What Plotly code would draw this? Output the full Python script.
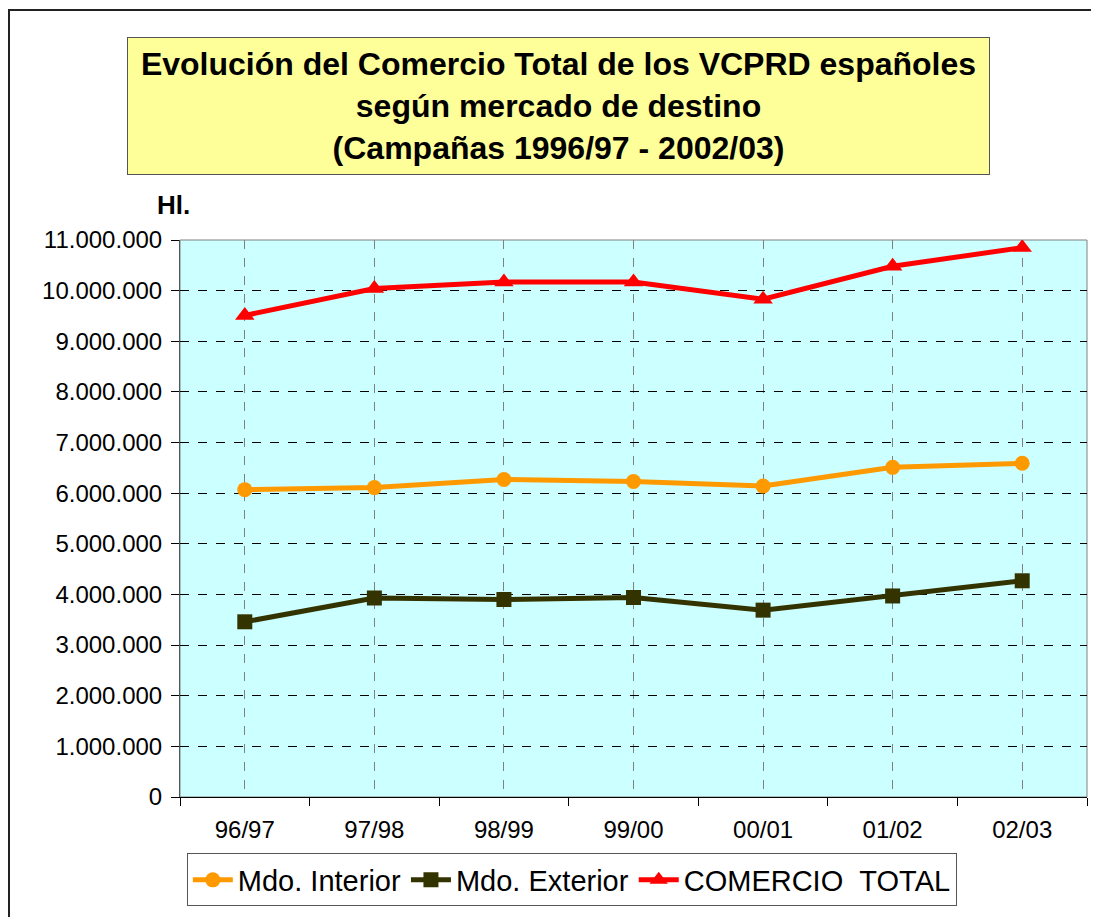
import plotly.graph_objects as go

categories = ["96/97", "97/98", "98/99", "99/00", "00/01", "01/02", "02/03"]
mdo_interior = [6070000, 6110000, 6270000, 6230000, 6140000, 6510000, 6590000]
mdo_exterior = [3460000, 3930000, 3900000, 3940000, 3690000, 3970000, 4270000]
comercio_total = [9510000, 10040000, 10170000, 10170000, 9830000, 10480000, 10850000]
y_ticks = list(range(0, 11000001, 1000000))
y_tick_labels = ["{:,}".format(v).replace(",", ".") for v in y_ticks]

FONT = "Arial, Liberation Sans, sans-serif"
xpos = list(range(len(categories)))

L, T, W, H = 172, 232, 907, 557  # plot area in figure pixels


def px(x):
    return (x - L) / W


def py(y):
    return (T + H - y) / H


fig = go.Figure()
fig.add_trace(go.Scatter(x=xpos, y=mdo_interior, name="Mdo. Interior", mode="lines+markers",
                         line=dict(color="#FF9900", width=5),
                         marker=dict(symbol="circle", size=15, color="#FF9900")))
fig.add_trace(go.Scatter(x=xpos, y=mdo_exterior, name="Mdo. Exterior", mode="lines+markers",
                         line=dict(color="#333300", width=5),
                         marker=dict(symbol="square", size=15, color="#333300")))
fig.add_trace(go.Scatter(x=xpos, y=comercio_total, name="COMERCIO\u00a0\u00a0TOTAL", mode="lines+markers",
                         line=dict(color="#FF0000", width=5),
                         marker=dict(symbol="triangle-up", size=17, color="#FF0000")))

fig.update_layout(
    width=1099, height=917,
    margin=dict(l=L, r=1099 - L - W, t=T, b=917 - T - H),
    paper_bgcolor="white",
    plot_bgcolor="#CCFFFF",
    font=dict(family=FONT, color="black"),
    showlegend=True,
    legend=dict(orientation="h", x=0.432, y=-0.149, xanchor="center", yanchor="middle",
                bordercolor="#555555", borderwidth=1, bgcolor="white",
                font=dict(size=29, family=FONT), itemwidth=40, tracegroupgap=0),
)

fig.update_xaxes(
    range=[-0.5, 6.5],
    tickmode="array", tickvals=xpos, ticktext=categories,
    tickfont=dict(size=24, family=FONT),
    ticks="outside", ticklen=11, tickcolor="rgba(0,0,0,0)",
    showgrid=True, gridcolor="#808080", griddash="dash", gridwidth=1,
    showline=True, linecolor="black", linewidth=1,
    minor=dict(tickmode="linear", tick0=-0.5, dtick=1, ticks="outside", ticklen=8,
               tickcolor="black", showgrid=False),
    zeroline=False, mirror=False,
)
fig.update_yaxes(
    range=[0, 11000000],
    tickmode="array", tickvals=y_ticks, ticktext=y_tick_labels,
    tickfont=dict(size=24, family=FONT),
    ticks="outside", ticklen=8, tickcolor="black",
    ticklabelstandoff=4,
    showgrid=True, gridcolor="black", griddash="dash", gridwidth=1,
    showline=True, linecolor="#555555", linewidth=1,
    zeroline=False,
)

# plot-area frame (top and right)
fig.add_shape(type="rect", xref="paper", yref="paper", x0=0, y0=0, x1=1, y1=1,
              line=dict(color="#808080", width=1), layer="below")

# outer chart border
fig.add_shape(type="rect", xref="paper", yref="paper",
              x0=px(1), x1=px(1110), y0=py(930), y1=py(2),
              line=dict(color="#222222", width=2))

# title box
fig.add_annotation(
    xref="paper", yref="paper", x=px(550.5), y=py(98),
    xanchor="center", yanchor="middle", showarrow=False,
    text="<b>Evolución del Comercio Total de los VCPRD españoles<br>según mercado de destino<br>(Campañas 1996/97 - 2002/03)</b>",
    font=dict(size=32, family=FONT, color="black"),
    bgcolor="#FFFF99", bordercolor="#555555", borderwidth=1, borderpad=0,
    width=861, height=136, align="center",
)

# units label
fig.add_annotation(
    xref="paper", yref="paper", x=px(147), y=py(197),
    xanchor="left", yanchor="middle", showarrow=False,
    text="<b>Hl.</b>", font=dict(size=26, family=FONT, color="black"),
)

fig.write_html("out.html")
